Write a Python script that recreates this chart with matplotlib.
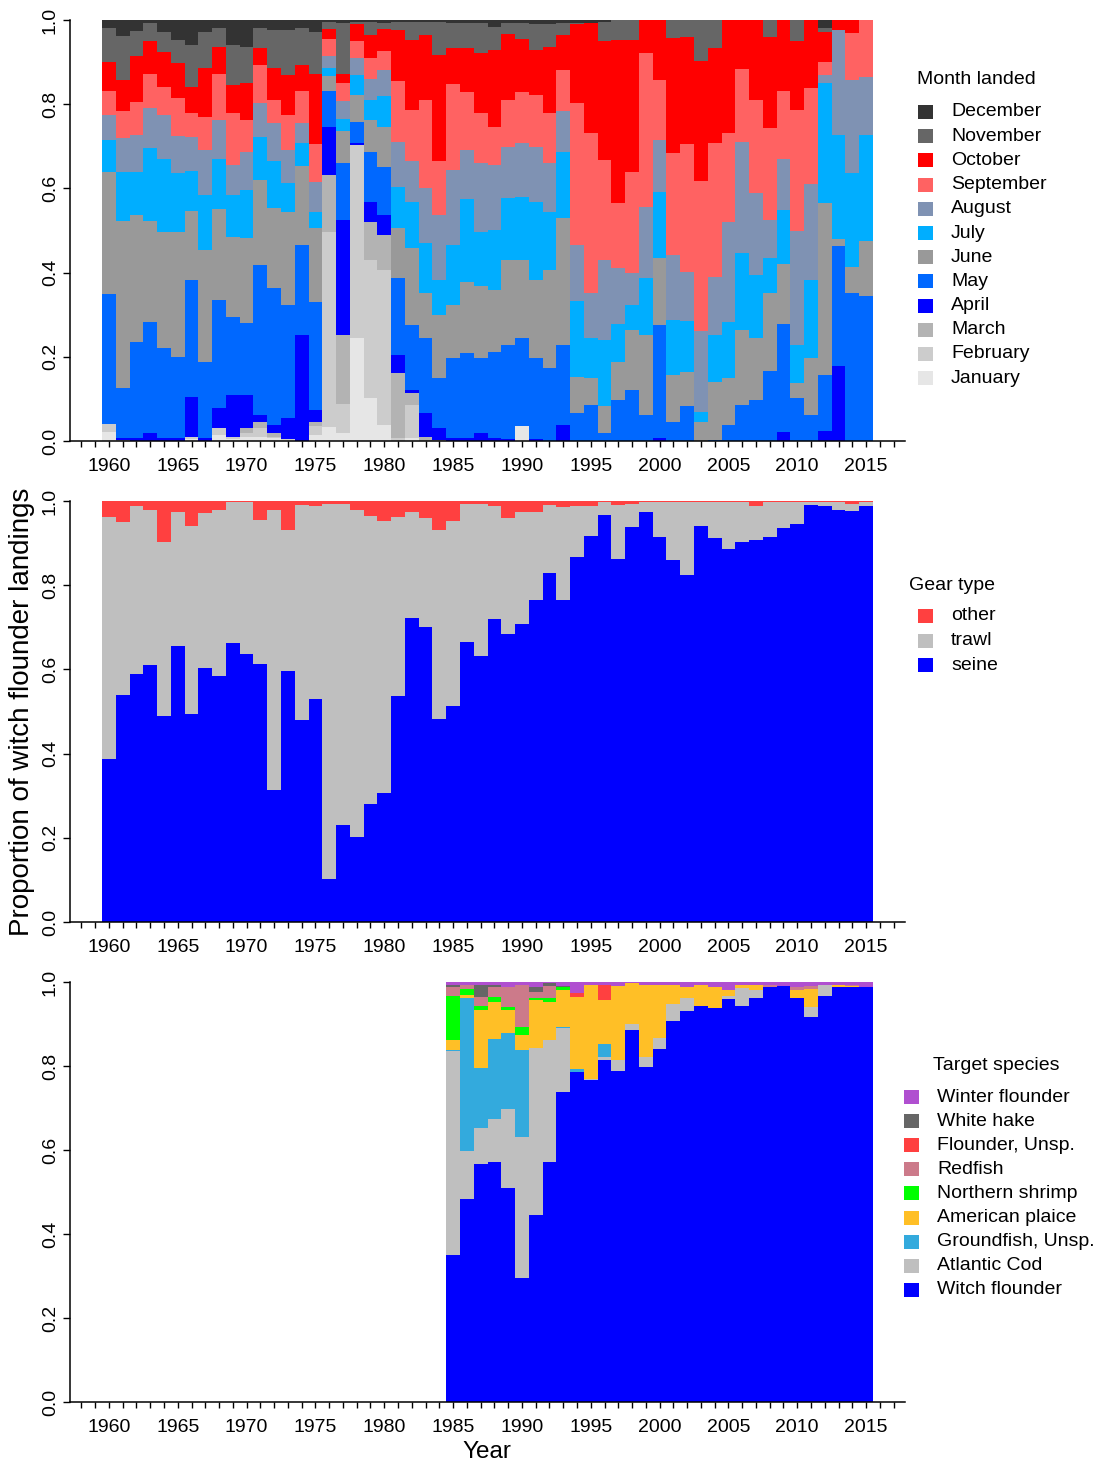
import numpy as np
import matplotlib
matplotlib.use('Agg')
import matplotlib.pyplot as plt
from matplotlib.patches import Rectangle

plt.rcParams['font.family'] = ['Liberation Sans', 'DejaVu Sans']

W, H = 1102, 1464

# ---------------- Panel 1: month landed (cumulative share up to each month, 1960-2015)
years = np.arange(1960, 2016)
cum_jan = [.022, 0, 0, 0, 0, 0, .004, 0, .015, .005,
           .010, .010, .008, .002, 0, .015, .034, .018, .244, .101,
           .038, 0, .006, 0, 0, 0, 0, 0, 0, 0,
           .036, 0, 0, 0, 0, 0, 0, 0, 0, 0,
           0, 0, 0, 0, 0, 0, 0, 0, 0, 0,
           0, 0, 0, 0, 0, 0]
cum_feb = [.040, 0, 0, 0, 0, 0, .010, 0, .030, .010,
           .018, .030, .010, .004, 0, .035, .496, .087, .703, .430,
           .406, .006, .086, 0, 0, 0, 0, 0, 0, 0,
           .036, 0, 0, 0, 0, 0, 0, 0, 0, 0,
           0, 0, 0, 0, 0, 0, 0, 0, 0, 0,
           0, 0, 0, 0, 0, 0]
cum_mar = [.040, .002, 0, 0, 0, 0, .010, 0, .030, .010,
           .030, .046, .018, .005, 0, .046, .632, .252, .703, .521,
           .489, .161, .113, .010, .002, 0, 0, 0, 0, 0,
           .036, 0, 0, 0, 0, 0, 0, 0, 0, 0,
           0, 0, 0, 0, 0, 0, 0, 0, 0, 0,
           0, 0, 0, 0, 0, 0]
cum_apr = [.040, .008, .008, .018, .006, .008, .105, .008, .078, .109,
           .109, .062, .038, .054, .252, .074, .747, .525, .707, .568,
           .537, .204, .121, .066, .030, .006, .006, .018, .006, .005,
           .036, .005, 0, .038, 0, 0, 0, 0, 0, 0,
           .006, 0, 0, 0, 0, 0, 0, 0, 0, .021,
           0, 0, .024, .177, 0, 0]
cum_may = [.348, .127, .236, .283, .222, .200, .382, .188, .335, .295,
           .280, .418, .363, .323, .466, .331, .831, .660, .757, .687,
           .652, .386, .276, .244, .150, .196, .208, .198, .212, .228,
           .244, .196, .173, .228, .066, .086, .018, .097, .121, .062,
           .276, .046, .082, 0, .002, .038, .086, .097, .166, .277,
           .103, .062, .157, .464, .351, .345]
cum_jun = [.638, .523, .537, .523, .497, .497, .546, .454, .551, .485,
           .483, .620, .554, .545, .654, .505, .868, .736, .823, .762,
           .747, .505, .458, .351, .299, .323, .378, .367, .359, .430,
           .430, .382, .406, .529, .153, .149, .082, .188, .264, .252,
           .434, .157, .165, .044, .141, .149, .264, .244, .351, .420,
           .137, .196, .565, .480, .414, .475]
cum_jul = [.715, .640, .640, .695, .671, .636, .641, .584, .671, .584,
           .596, .723, .664, .612, .707, .545, .887, .765, .869, .810,
           .820, .604, .568, .470, .382, .466, .576, .497, .501, .578,
           .580, .568, .545, .687, .333, .244, .240, .279, .323, .386,
           .592, .287, .285, .070, .252, .283, .446, .394, .434, .549,
           .228, .382, .850, .728, .636, .728]
cum_aug = [.774, .719, .727, .790, .774, .725, .723, .691, .762, .656,
           .687, .802, .755, .691, .755, .616, .915, .808, .909, .861,
           .881, .711, .664, .600, .538, .644, .691, .660, .656, .699,
           .707, .699, .660, .784, .466, .351, .430, .410, .398, .557,
           .715, .442, .402, .261, .390, .521, .711, .588, .525, .670,
           .499, .610, .869, .976, .857, .865]
cum_sep = [.831, .784, .806, .871, .842, .814, .778, .770, .871, .778,
           .762, .893, .810, .774, .831, .705, .955, .850, .949, .909,
           .926, .854, .786, .810, .664, .847, .830, .778, .747, .810,
           .830, .822, .778, .881, .802, .731, .667, .565, .640, .921,
           .857, .683, .705, .618, .707, .731, .884, .810, .743, .831,
           .786, .839, .901, .976, .968, 1.0]
cum_oct = [.901, .857, .915, .949, .923, .897, .842, .885, .937, .846,
           .850, .933, .885, .869, .893, .871, .979, .871, .990, .964,
           .979, .976, .953, .964, .917, .934, .933, .921, .929, .966,
           .955, .929, .937, .964, .990, .994, .949, .953, .953, 1.0,
           1.0, .958, .960, .903, .934, 1.0, 1.0, 1.0, .960, 1.0,
           .949, 1.0, .972, 1.0, 1.0, 1.0]
cum_nov = [.982, .963, .974, .992, .972, .953, .941, .971, .982, .941,
           .937, .980, .976, .976, .980, .971, .995, .992, .995, .995,
           .992, .995, .995, .996, .995, .992, .992, .992, .984, .992,
           .992, .990, .990, .992, .992, .994, .995, 1.0, 1.0, 1.0,
           1.0, 1.0, 1.0, 1.0, 1.0, 1.0, 1.0, 1.0, 1.0, 1.0,
           1.0, 1.0, .982, 1.0, 1.0, 1.0]
cum_dec = [1.0] * 56

month_names = ["January", "February", "March", "April", "May", "June",
               "July", "August", "September", "October", "November", "December"]
month_colors = ["#E6E6E6", "#CCCCCC", "#B3B3B3", "#0000FF", "#0068FF", "#999999",
                "#00AEFF", "#7F92B3", "#FF6262", "#FF0000", "#666666", "#333333"]

# ---------------- Panel 2: gear type (cumulative share: seine, seine+trawl)
cum_seine = [.388, .540, .590, .610, .490, .656, .493, .604, .585, .663,
             .636, .612, .313, .596, .479, .529, .101, .230, .202, .281,
             .307, .536, .723, .700, .481, .513, .664, .632, .719, .684,
             .708, .766, .830, .764, .868, .916, .967, .862, .939, .973,
             .915, .860, .824, .941, .911, .887, .903, .907, .915, .937,
             .945, .990, .989, .979, .977, .989]
cum_trawl = [.963, .951, .987, .979, .903, .973, .941, .971, .979, .998,
             .997, .955, .979, .931, .990, .987, .994, .993, .979, .965,
             .953, .963, .975, .959, .932, .952, .994, .994, .987, .960,
             .975, .975, .990, .985, .988, .987, .997, .990, .993, .997,
             .997, .997, .997, .997, .997, .997, .997, .989, .997, .997,
             .997, .997, .997, .997, .992, .997]
cum_other = [1.0] * 56
gear_names = ["seine", "trawl", "other"]
gear_colors = ["#0000FF", "#BFBFBF", "#FF4040"]

# ---------------- Panel 3: target species (cumulative share, 1985-2015)
years_sp = np.arange(1985, 2016)
cum_witch = [.350, .483, .566, .571, .509, .296, .445, .571, .737, .785,
             .767, .814, .788, .886, .798, .840, .907, .931, .944, .937,
             .960, .944, .963, .987, .991, .961, .917, .967, .989, .989, .989]
cum_cod = [.836, .598, .653, .675, .698, .632, .844, .862, .891, .785,
           .769, .822, .814, .899, .822, .866, .947, .963, .944, .937,
           .967, .986, .981, .987, .991, .961, .941, .993, .989, .989, .989]
cum_groundfish = [.838, .963, .796, .864, .878, .838, .844, .862, .894, .794,
                  .769, .852, .814, .899, .822, .866, .947, .963, .944, .937,
                  .967, .986, .981, .987, .991, .961, .941, .993, .989, .989, .989]
cum_plaice = [.862, .969, .933, .953, .933, .874, .957, .953, .981, .965,
              .994, .957, .991, .997, .994, .993, .994, .987, .994, .987,
              .981, .994, .993, .987, .991, .981, .984, .993, .993, .991, .989]
cum_shrimp = [.967, .983, .944, .965, .941, .894, .963, .963, .987, .965,
              .994, .957, .991, .997, .994, .993, .994, .987, .994, .987,
              .981, .994, .993, .987, .991, .981, .984, .993, .993, .991, .989]
cum_redfish = [.989, .993, .965, .987, .987, .993, .977, .991, .987, .965,
               .994, .957, .991, .997, .994, .993, .994, .987, .994, .987,
               .981, .994, .993, .994, .991, .989, .990, .993, .993, .994, .989]
cum_flounder = [.989, .993, .965, .987, .987, .993, .977, .991, .987, .973,
                .994, .994, .991, .997, .994, .993, .994, .987, .994, .987,
                .981, .994, .993, .994, .991, .989, .990, .993, .993, .994, .989]
cum_hake = [.994, .993, .994, .993, .987, .993, .987, .997, .991, .973,
            .994, .994, .991, .997, .994, .993, .994, .987, .994, .987,
            .981, .994, .993, .994, .991, .989, .990, .993, .993, .994, .989]
cum_winter = [1.0] * 31
species_names = ["Witch flounder", "Atlantic Cod", "Groundfish, Unsp.", "American plaice",
                 "Northern shrimp", "Redfish", "Flounder, Unsp.", "White hake",
                 "Winter flounder"]
species_colors = ["#0000FF", "#BFBFBF", "#33AADD", "#FFBF26", "#00FF00",
                  "#CC7A8A", "#FF4040", "#666666", "#B04FD0"]

tick_years = np.arange(1958, 2018)
FS = 14

fig = plt.figure(figsize=(W / 100, H / 100), dpi=100)


def make_ax(top_px, bottom_px):
    ax = fig.add_axes([70 / W, 1 - bottom_px / H, 835 / W, (bottom_px - top_px) / H])
    ax.set_xlim(1957.17, 2017.83)
    ax.set_ylim(0, 1)
    for s in ["top", "right"]:
        ax.spines[s].set_visible(False)
    for s in ["left", "bottom"]:
        ax.spines[s].set_linewidth(1.1)
    ax.set_xticks(tick_years)
    ax.set_xticklabels([str(y) if y % 5 == 0 else "" for y in tick_years])
    ax.set_yticks([0, .2, .4, .6, .8, 1.0])
    ax.set_yticklabels(["0.0", "0.2", "0.4", "0.6", "0.8", "1.0"])
    ax.tick_params(axis="x", direction="out", length=4.5, width=1.0, labelsize=FS, pad=7.5)
    ax.tick_params(axis="y", direction="out", length=5, width=1.0, labelsize=FS, pad=3)
    for lab in ax.get_yticklabels():
        lab.set_rotation(90)
        lab.set_va("center")
        lab.set_ha("right")
    return ax


def stack(ax, x, tops, colors):
    prev = np.zeros(len(x))
    for top, c in zip(tops, colors):
        top = np.asarray(top, dtype=float)
        ax.bar(x, top - prev, bottom=prev, width=1.0, color=c,
               linewidth=0, antialiased=False)
        prev = top


def legend(title, title_xy, labels, colors, sq_x, txt_x, y0, dy):
    fig.text(title_xy[0] / W, 1 - title_xy[1] / H, title, ha="center", va="center",
             fontsize=FS)
    for i, (lab, c) in enumerate(zip(labels, colors)):
        yc = y0 + dy * i
        fig.add_artist(Rectangle((sq_x / W, 1 - (yc + 7) / H), 15 / W, 14 / H,
                                 transform=fig.transFigure, facecolor=c,
                                 edgecolor="none"))
        fig.text(txt_x / W, 1 - yc / H, lab, ha="left", va="center", fontsize=FS)


ax1 = make_ax(20, 441)
stack(ax1, years, [cum_jan, cum_feb, cum_mar, cum_apr, cum_may, cum_jun, cum_jul,
                   cum_aug, cum_sep, cum_oct, cum_nov, cum_dec], month_colors)
legend("Month landed", (976, 80), month_names[::-1], month_colors[::-1],
       918, 951, 112, 24.2)

ax2 = make_ax(501, 922)
stack(ax2, years, [cum_seine, cum_trawl, cum_other], gear_colors)
legend("Gear type", (952, 585), gear_names[::-1], gear_colors[::-1],
       918, 951, 616, 24.5)

ax3 = make_ax(982, 1402)
stack(ax3, years_sp, [cum_witch, cum_cod, cum_groundfish, cum_plaice, cum_shrimp,
                      cum_redfish, cum_flounder, cum_hake, cum_winter], species_colors)
legend("Target species", (996, 1066), species_names[::-1], species_colors[::-1],
       904, 937, 1097, 24.1)

fig.text(22 / W, 1 - 712 / H, "Proportion of witch flounder landings", rotation=90,
         ha="center", va="center", fontsize=20)
fig.text(487 / W, 1 - 1452 / H, "Year", ha="center", va="center", fontsize=17.5)

fig.savefig("out.png", dpi=100)
